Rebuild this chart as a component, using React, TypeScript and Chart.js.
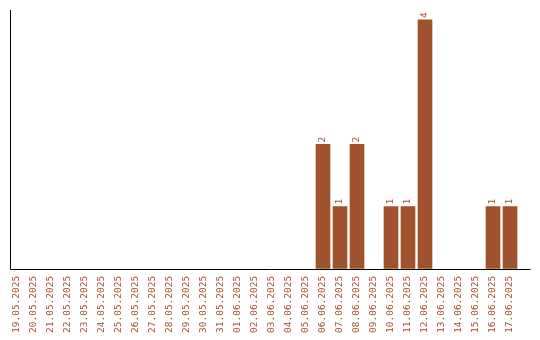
import React, { useEffect, useRef } from "react";
import { Chart, registerables } from "chart.js";

Chart.register(...registerables);

const dates: string[] = [
  "19.05.2025", "20.05.2025", "21.05.2025", "22.05.2025", "23.05.2025",
  "24.05.2025", "25.05.2025", "26.05.2025", "27.05.2025", "28.05.2025",
  "29.05.2025", "30.05.2025", "31.05.2025", "01.06.2025", "02.06.2025",
  "03.06.2025", "04.06.2025", "05.06.2025", "06.06.2025", "07.06.2025",
  "08.06.2025", "09.06.2025", "10.06.2025", "11.06.2025", "12.06.2025",
  "13.06.2025", "14.06.2025", "15.06.2025", "16.06.2025", "17.06.2025",
];

const counts: number[] = [
  0, 0, 0, 0, 0,
  0, 0, 0, 0, 0,
  0, 0, 0, 0, 0,
  0, 0, 0, 2, 1,
  2, 0, 1, 1, 4,
  0, 0, 0, 1, 1,
];

const BAR_COLOR = "#A0522D";
const FONT_FAMILY = "'DejaVu Sans Mono', monospace";

const axesAndLabels = {
  id: "axesAndLabels",
  afterDatasetsDraw(chart: any) {
    const { ctx, chartArea } = chart;
    const { left, right, top, bottom } = chartArea;
    ctx.save();
    ctx.strokeStyle = "#000000";
    ctx.lineWidth = 1;
    ctx.beginPath();
    const ax = Math.round(left + 1.5) + 0.5;
    const ay = Math.round(bottom) + 0.5;
    ctx.moveTo(ax, top);
    ctx.lineTo(ax, ay);
    ctx.lineTo(right + 12, ay);
    ctx.stroke();

    const meta = chart.getDatasetMeta(0);
    ctx.fillStyle = BAR_COLOR;
    ctx.font = `9.5px ${FONT_FAMILY}`;
    ctx.textAlign = "left";
    ctx.textBaseline = "middle";
    meta.data.forEach((bar: any, i: number) => {
      const v = counts[i];
      if (!v) return;
      ctx.save();
      ctx.translate(bar.x, bar.y - 2);
      ctx.rotate(-Math.PI / 2);
      ctx.fillText(String(v), 0, 0);
      ctx.restore();
    });
    ctx.restore();
  },
};

export default function App() {
  const ref = useRef<HTMLCanvasElement | null>(null);
  useEffect(() => {
    if (!ref.current) return;
    const chart = new Chart(ref.current, {
      type: "bar",
      data: {
        labels: dates,
        datasets: [
          {
            data: counts.map((v) => (v === 0 ? null : v)),
            backgroundColor: BAR_COLOR,
            borderWidth: 0,
            barThickness: 14,
          },
        ],
      },
      options: {
        animation: false,
        responsive: false,
        maintainAspectRatio: false,
        devicePixelRatio: 1,
        layout: { padding: { left: 8.5, right: 21.5, top: 10, bottom: 0 } },
        plugins: {
          legend: { display: false },
          tooltip: { enabled: false },
          title: { display: false },
        },
        scales: {
          x: {
            offset: true,
            grid: { display: false, drawTicks: false },
            border: { display: false },
            ticks: {
              autoSkip: false,
              minRotation: 90,
              maxRotation: 90,
              padding: 7,
              color: BAR_COLOR,
              font: { family: FONT_FAMILY, size: 9.5 },
            },
          },
          y: {
            min: 0,
            max: 4.16,
            grid: { display: false, drawTicks: false },
            border: { display: false },
            ticks: { display: false },
          },
        },
      },
      plugins: [axesAndLabels],
    });
    return () => chart.destroy();
  }, []);
  return (
    <div style={{ position: "absolute", left: 0, top: 0, width: 540, height: 340, background: "#fff" }}>
      <canvas ref={ref} width={540} height={340} style={{ width: 540, height: 340, display: "block" }} />
    </div>
  );
}
